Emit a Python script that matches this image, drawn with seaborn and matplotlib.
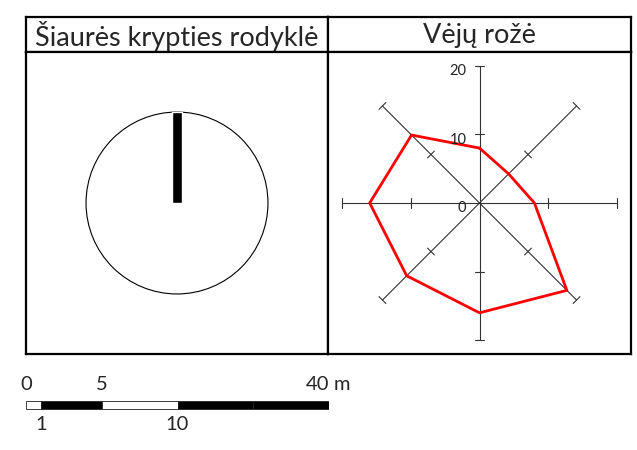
import numpy as np
import pandas as pd
import seaborn as sns
import matplotlib.pyplot as plt
from matplotlib.patches import Circle

sns.set_style('white')
plt.rcParams['font.family'] = ['Lato', 'DejaVu Sans']

# titles of the two table cells
titles = ['Šiaurės krypties rodyklė', 'Vėjų rožė']

# north arrow: direction (deg from north) and length (fraction of circle radius)
north_dir = [0]
north_len = [1.0]

# wind rose: directions and frequencies
directions = ['Š', 'ŠR', 'R', 'PR', 'P', 'PV', 'V', 'ŠV']
dir_angles = [0, 45, 90, 135, 180, 225, 270, 315]
wind_values = [8, 6, 8, 18, 16, 15, 16, 14]
rose_ticks = [10, 20]
rose_labels = ['0', '10', '20']

# scale bar: marks (metres) and their position on the bar (segments)
scale_marks = [0, 1, 5, 10, 20, 40]
scale_pos = [0, 0.2, 1, 2, 3, 4]
scale_fill = ['white', 'black', 'white', 'black', 'black']
scale_top = ['0', '5', '40']
scale_bottom = ['1', '10']

W, H = 637, 450
fig = plt.figure(figsize=(W / 100, H / 100), dpi=100)


def box(l, t, r, b):
    return [l / W, 1 - b / H, (r - l) / W, (b - t) / H]


def frame(ax):
    ax.set_xticks([])
    ax.set_yticks([])
    for s in ax.spines.values():
        s.set_visible(True)
        s.set_color('black')
        s.set_linewidth(1.6)


# header cells
for i, (l, r) in enumerate([(26, 328), (328, 631)]):
    hax = fig.add_axes(box(l, 17, r, 52))
    frame(hax)
    hax.text(0.5, 0.47, titles[i], ha='center', va='center', fontsize=19.5,
             transform=hax.transAxes)

# left: north arrow
ax1 = fig.add_axes(box(26, 52, 328, 354))
frame(ax1)
ax1.add_patch(Circle((0, 0), 1, facecolor='white', edgecolor='black', lw=0.8))
ax1.bar(np.sin(np.radians(north_dir)) * 0, north_len, width=0.11, bottom=0,
        color='black', zorder=3)
ax1.set_xlim(-1.66, 1.66)
ax1.set_ylim(-1.66, 1.66)
ax1.set_aspect('equal')

# right: wind rose
ax2 = fig.add_axes(box(328, 52, 631, 354))
frame(ax2)
lim = 20
cap = 0.7
axc = '#333333'
for a in dir_angles[:4]:
    t = np.radians(a)
    ux, uy = np.sin(t), np.cos(t)
    px, py = np.cos(t), -np.sin(t)
    ax2.plot([-lim * ux, lim * ux], [-lim * uy, lim * uy], color=axc, lw=0.8)
    for v in rose_ticks:
        for sgn in (-1, 1):
            cx, cy = sgn * v * ux, sgn * v * uy
            ax2.plot([cx - cap * px, cx + cap * px], [cy - cap * py, cy + cap * py],
                     color=axc, lw=0.8)

theta = np.radians(dir_angles + dir_angles[:1])
vals = np.array(wind_values + wind_values[:1])
rose = pd.DataFrame({'x': vals * np.sin(theta), 'y': vals * np.cos(theta)})
sns.lineplot(data=rose, x='x', y='y', sort=False, color='red', lw=2, ax=ax2,
             estimator=None, zorder=4)

for lab, v in zip(rose_labels, [0] + rose_ticks):
    ax2.text(-1.9, v - 0.8, lab, ha='right', va='center', fontsize=10.5,
             color='#222222', zorder=5)

ax2.set_xlim(-22.05, 22.05)
ax2.set_ylim(-22.0, 22.0)
ax2.set_aspect('equal')
ax2.set_xlabel('')
ax2.set_ylabel('')

# scale bar
ax3 = fig.add_axes(box(26, 372, 329, 438))
ax3.axis('off')
left = scale_pos[:-1]
widths = np.diff(scale_pos)
ax3.barh([0] * len(widths), widths, left=left, height=1, color=scale_fill,
         edgecolor='#222222', lw=0.6)
ax3.set_xlim(0, 4)
ax3.set_ylim(-4.125, 4.125)
for lab in scale_top:
    x = scale_pos[scale_marks.index(int(lab))]
    ha = 'right' if x == scale_pos[-1] else 'center'
    ax3.annotate(lab, (x, 0.5), xytext=(0, 6), textcoords='offset points',
                 ha=ha, va='bottom', fontsize=14.5)
ax3.annotate('m', (scale_pos[-1], 0.5), xytext=(3, 6), textcoords='offset points',
             ha='left', va='bottom', fontsize=14.5)
for lab in scale_bottom:
    x = scale_pos[scale_marks.index(int(lab))]
    ax3.annotate(lab, (x, -0.5), xytext=(0, -5), textcoords='offset points',
                 ha='center', va='top', fontsize=14.5)

fig.savefig('out.png', dpi=100)
